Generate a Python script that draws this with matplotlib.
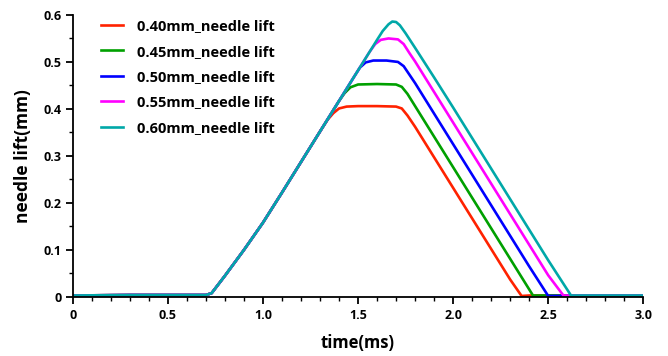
import matplotlib
matplotlib.use("Agg")
import matplotlib.pyplot as plt
from matplotlib.ticker import MultipleLocator, FuncFormatter

plt.rcParams['font.family'] = ['Open Sans', 'DejaVu Sans']
plt.rcParams['font.weight'] = 'bold'

labels = ["0.40mm_needle lift", "0.45mm_needle lift", "0.50mm_needle lift",
          "0.55mm_needle lift", "0.60mm_needle lift"]
colors = ["#ff2200", "#00a000", "#0000ff", "#ff00ff", "#00a8a8"]

# shared opening ramp (time ms, lift mm)
t_rise = [0.0, 0.3, 0.6, 0.70, 0.73, 0.8, 0.9, 1.0, 1.1, 1.2, 1.3]
y_rise = [0.003, 0.004, 0.004, 0.004, 0.008, 0.045, 0.100, 0.158, 0.222, 0.287, 0.352]

t_040 = [1.34, 1.37, 1.40, 1.44, 1.5, 1.6, 1.70, 1.73, 1.76, 1.8, 1.9, 2.0, 2.1, 2.2, 2.3, 2.36, 2.40, 3.0]
y_040 = [0.377, 0.391, 0.401, 0.405, 0.406, 0.406, 0.405, 0.401, 0.386, 0.362, 0.297, 0.232, 0.167, 0.102, 0.037, 0.002, 0.003, 0.003]

t_045 = [1.4, 1.43, 1.46, 1.50, 1.6, 1.70, 1.73, 1.76, 1.8, 1.9, 2.0, 2.1, 2.2, 2.3, 2.42, 2.46, 3.0]
y_045 = [0.417, 0.434, 0.446, 0.452, 0.453, 0.452, 0.447, 0.432, 0.406, 0.341, 0.276, 0.211, 0.146, 0.081, 0.003, 0.003, 0.003]

t_050 = [1.4, 1.48, 1.51, 1.54, 1.58, 1.65, 1.71, 1.74, 1.77, 1.8, 1.9, 2.0, 2.1, 2.2, 2.3, 2.4, 2.50, 3.0]
y_050 = [0.417, 0.469, 0.488, 0.499, 0.503, 0.503, 0.500, 0.491, 0.473, 0.455, 0.390, 0.325, 0.260, 0.195, 0.130, 0.065, 0.002, 0.003]

t_055 = [1.4, 1.5, 1.56, 1.59, 1.62, 1.66, 1.71, 1.74, 1.77, 1.8, 1.9, 2.0, 2.1, 2.2, 2.3, 2.4, 2.5, 2.58, 3.0]
y_055 = [0.417, 0.482, 0.521, 0.538, 0.547, 0.550, 0.548, 0.538, 0.519, 0.501, 0.436, 0.371, 0.306, 0.241, 0.176, 0.111, 0.046, 0.003, 0.003]

t_060 = [1.4, 1.5, 1.6, 1.63, 1.66, 1.68, 1.70, 1.72, 1.75, 1.8, 1.9, 2.0, 2.1, 2.2, 2.3, 2.4, 2.5, 2.62, 3.0]
y_060 = [0.417, 0.482, 0.547, 0.566, 0.580, 0.586, 0.585, 0.578, 0.561, 0.530, 0.467, 0.403, 0.338, 0.273, 0.208, 0.143, 0.078, 0.003, 0.003]

series = [(t_040, y_040), (t_045, y_045), (t_050, y_050), (t_055, y_055), (t_060, y_060)]

fig = plt.figure(figsize=(6.68, 3.56), dpi=100)
ax = fig.add_axes([0.109, 0.166, 0.854, 0.792])

for (t, y), c, lab in zip(series, colors, labels):
    ax.plot(t_rise + t, y_rise + y, color=c, lw=1.9, label=lab)

ax.set_xlim(0, 3.0)
ax.set_ylim(0, 0.6)
ax.xaxis.set_major_locator(MultipleLocator(0.5))
ax.xaxis.set_minor_locator(MultipleLocator(0.1))
ax.yaxis.set_major_locator(MultipleLocator(0.1))
ax.yaxis.set_minor_locator(MultipleLocator(0.05))
ax.xaxis.set_major_formatter(FuncFormatter(lambda v, p: "0" if v == 0 else f"{v:.1f}"))
ax.yaxis.set_major_formatter(FuncFormatter(lambda v, p: "0" if v == 0 else f"{v:.1f}"))

for s in ["top", "right"]:
    ax.spines[s].set_visible(False)
for s in ["left", "bottom"]:
    ax.spines[s].set_linewidth(1.3)
ax.tick_params(which="major", direction="out", length=5, width=1.3, labelsize=9)
ax.tick_params(axis="x", which="major", pad=3.5)
ax.tick_params(axis="y", which="major", pad=3)
ax.tick_params(which="minor", direction="out", length=3, width=1.0)

ax.set_xlabel("time(ms)", fontsize=12, fontweight="bold", labelpad=9)
ax.set_ylabel("needle lift(mm)", fontsize=12.5, fontweight="bold", labelpad=8)

ax.legend(loc="upper left", bbox_to_anchor=(0.151, 0.946), bbox_transform=fig.transFigure,
          frameon=False, fontsize=10.5, handlelength=1.5, handletextpad=0.95,
          labelspacing=0.78, borderpad=0, borderaxespad=0)

fig.savefig("out.png", dpi=100)
